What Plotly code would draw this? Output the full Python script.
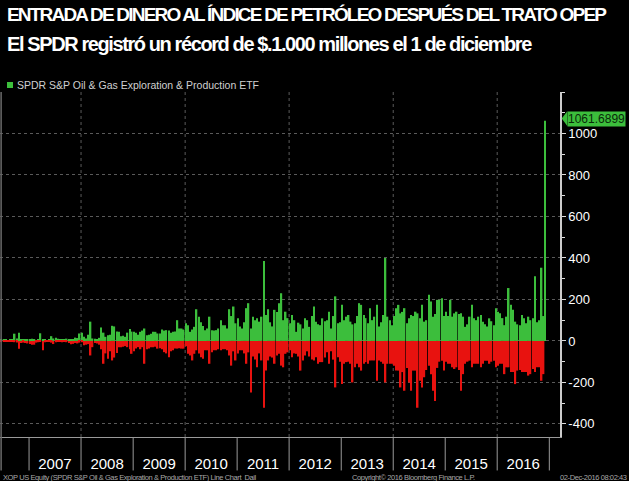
import plotly.graph_objects as go
import pandas as pd

# ---------------- data (semi-monthly envelopes of daily flows, $ millions) ----------------
pos_2006 = [5, 6, 5, 4, 6, 8, 35, 12, 40, 6, 5, 6, 8]
neg_2006 = [-2, -2, -3, -2, -3, -4, -6, -8, -38, -10, -8, -10, -12]
pos_2007 = [8, 11, 5, 4, 6, 37, 8, 5, 4, 5, 23, 12, 16, 10, 7, 6, 8, 11, 9, 6, 8, 16, 14, 36]
neg_2007 = [-15, -18, -18, -8, -6, -5, -45, -6, -4, -4, -8, -15, -6, -5, -4, -6, -5, -6, -10, -16, -14, -10, -12, -8]
pos_2008 = [39, 20, 12, 30, 93, 12, 10, 8, 15, 65, 40, 20, 28, 30, 73, 70, 45, 44, 23, 25, 20, 40, 57, 45]
neg_2008 = [-6, -21, -18, -15, -70, -30, -10, -12, -18, -40, -110, -60, -86, -50, -94, -80, -58, -30, -30, -28, -25, -30, -40, -62]
pos_2009 = [44, 39, 30, 44, 50, 60, 28, 30, 35, 44, 44, 36, 36, 55, 50, 52, 50, 40, 44, 45, 100, 60, 60, 55]
neg_2009 = [-50, -37, -30, -40, -30, -110, -40, -37, -30, -30, -28, -37, -35, -40, -54, -60, -78, -50, -45, -37, -37, -35, -37, -37]
pos_2010 = [85, 76, 44, 55, 68, 153, 117, 90, 72, 52, 60, 117, 52, 50, 52, 60, 100, 76, 76, 60, 153, 120, 166, 85]
neg_2010 = [-25, -62, -70, -94, -62, -45, -60, -78, -86, -45, -45, -110, -54, -45, -45, -40, -45, -40, -40, -45, -70, -119, -50, -94]
pos_2011 = [109, 70, 60, 90, 158, 182, 60, 117, 100, 109, 93, 117, 385, 125, 153, 90, 70, 150, 140, 182, 230, 100, 141, 110]
neg_2011 = [-60, -45, -45, -60, -110, -55, -249, -75, -90, -127, -60, -94, -322, -143, -94, -75, -80, -110, -70, -62, -119, -127, -62, -55]
pos_2012 = [85, 125, 100, 44, 88, 80, 60, 109, 100, 68, 120, 166, 93, 80, 76, 109, 95, 100, 141, 60, 120, 215, 85, 90]
neg_2012 = [-45, -78, -60, -62, -75, -143, -94, -70, -50, -75, -90, -94, -78, -110, -102, -102, -80, -55, -110, -50, -90, -224, -78, -100]
pos_2013 = [174, 100, 117, 125, 93, 80, 85, 120, 182, 174, 125, 110, 85, 158, 100, 117, 174, 70, 90, 125, 400, 117, 100, 76]
neg_2013 = [-208, -110, -102, -100, -110, -200, -127, -110, -127, -143, -110, -102, -110, -94, -94, -94, -192, -94, -100, -110, -200, -110, -110, -110]
pos_2014 = [120, 158, 174, 133, 140, 158, 85, 110, 125, 120, 141, 133, 110, 174, 93, 100, 223, 190, 117, 130, 198, 198, 206, 120]
neg_2014 = [-120, -143, -143, -224, -150, -240, -130, -200, -240, -143, -143, -322, -192, -224, -175, -140, -119, -160, -240, -290, -130, -100, -95, -143]
pos_2015 = [141, 120, 198, 117, 133, 141, 130, 133, 117, 68, 80, 117, 174, 110, 100, 117, 125, 93, 80, 70, 109, 95, 76, 158]
neg_2015 = [-100, -110, -110, -127, -135, -127, -140, -240, -160, -110, -100, -95, -127, -110, -110, -110, -127, -110, -95, -95, -110, -100, -95, -127]
pos_2016 = [141, 133, 110, 76, 117, 255, 174, 150, 93, 80, 76, 125, 110, 85, 117, 100, 110, 312, 90, 100, 353, 120]
neg_2016 = [-120, -110, -110, -160, -127, -127, -150, -150, -208, -143, -140, -150, -150, -150, -167, -160, -135, -150, -127, -127, -192, -160]

spike_date = "2016-12-01"
spike_value = 1061.6899

years = [2007, 2008, 2009, 2010, 2011, 2012, 2013, 2014, 2015, 2016]
y_ticks = [-400, -200, 0, 200, 400, 600, 800, 1000]

series_name = "SPDR S&P Oil & Gas Exploration & Production ETF"
title1 = "ENTRADA DE DINERO AL ÍNDICE DE PETRÓLEO DESPUÉS DEL TRATO OPEP"
title2 = "El SPDR registró un récord de $.1.000 millones el 1 de diciembre"
footer_left = "XOP US Equity (SPDR S&P Oil & Gas Exploration & Production ETF) Line Chart  Dail"
footer_mid = "Copyright\u00a9 2016 Bloomberg Finance L.P."
footer_right = "02-Dec-2016 08:02:43"

# ---------------- build ----------------
pos = pos_2006 + pos_2007 + pos_2008 + pos_2009 + pos_2010 + pos_2011 + pos_2012 + pos_2013 + pos_2014 + pos_2015 + pos_2016
neg = neg_2006 + neg_2007 + neg_2008 + neg_2009 + neg_2010 + neg_2011 + neg_2012 + neg_2013 + neg_2014 + neg_2015 + neg_2016
dates = pd.date_range("2006-06-15", periods=len(pos), freq="SMS")
x_mid = dates + pd.Timedelta(days=7)

GREEN = "#3CBE3C"
RED = "#E8120F"
GRID = "#5a5a5a"

fig = go.Figure()
fig.add_trace(go.Bar(x=x_mid, y=pos, marker=dict(color=GREEN, line=dict(width=0)),
                     name=series_name, showlegend=False))
fig.add_trace(go.Bar(x=x_mid, y=neg, marker=dict(color=RED, line=dict(width=0)),
                     showlegend=False))
fig.add_trace(go.Bar(x=[pd.Timestamp(spike_date)], y=[spike_value], width=[9 * 86400000],
                     marker=dict(color=GREEN, line=dict(width=0)), showlegend=False))

shapes = []
for yr in years + [2017]:
    shapes.append(dict(type="line", xref="x", yref="paper", x0=f"{yr}-01-01", x1=f"{yr}-01-01",
                       y0=0, y1=-0.097, line=dict(color="#9a9a9a", width=1)))
for yr in [2008, 2010, 2012, 2014, 2016]:
    shapes.append(dict(type="line", xref="x", yref="paper", x0=f"{yr}-01-01", x1=f"{yr}-01-01",
                       y0=0, y1=1, line=dict(color=GRID, width=1, dash="dot"), layer="below"))
shapes.append(dict(type="line", xref="paper", yref="paper", x0=0.002, x1=0.002, y0=-0.097, y1=1,
                   line=dict(color="#6a6a6a", width=1.5)))
shapes.append(dict(type="rect", xref="paper", yref="paper", x0=7 / 560, x1=13 / 560,
                   y0=(437 - 88) / 345, y1=(437 - 82) / 345, fillcolor=GREEN, line=dict(width=0)))
shapes.append(dict(type="path", xref="paper", yref="y",
                   path=f"M 1.003 {spike_value + 10} L 1.013 {spike_value + 45} L 1.013 {spike_value - 25} Z",
                   fillcolor=GREEN, line=dict(width=0)))

TITLE_FONT = "Liberation Sans, Arial"
annotations = [
    dict(text=f"<span style='letter-spacing:-1.8px'><b>{title1}</b></span>", xref="paper", yref="paper",
         x=5 / 560, y=(437 - 2) / 345, xanchor="left", yanchor="top", showarrow=False,
         font=dict(family=TITLE_FONT, size=19, color="white")),
    dict(text=f"<span style='letter-spacing:-1.4px'><b>{title2}</b></span>", xref="paper", yref="paper",
         x=5 / 560, y=(437 - 31) / 345, xanchor="left", yanchor="top", showarrow=False,
         font=dict(family=TITLE_FONT, size=20, color="white")),
    dict(text=series_name, xref="paper", yref="paper", x=15 / 560, y=(437 - 85) / 345,
         xanchor="left", yanchor="middle", showarrow=False,
         font=dict(family="Liberation Sans, Arial", size=10.5, color="#d0d0d0")),
    dict(text=f"{spike_value:.4f}", xref="paper", yref="y", x=1.012, y=spike_value,
         xanchor="left", yanchor="middle", yshift=2, showarrow=False, bgcolor=GREEN, borderpad=0,
         font=dict(family="Liberation Sans, Arial", size=12, color="#0a2a0a")),
    dict(text=f"<span style='letter-spacing:-0.4px'>{footer_left}</span>", xref="paper", yref="paper",
         x=1 / 560, y=-0.118, xanchor="left", yanchor="middle", showarrow=False,
         font=dict(family="Liberation Sans", size=7.5, color="#a8a8a8")),
    dict(text=f"<span style='letter-spacing:-0.4px'>{footer_mid}</span>", xref="paper", yref="paper",
         x=350 / 560, y=-0.118, xanchor="left", yanchor="middle", showarrow=False,
         font=dict(family="Liberation Sans", size=7.5, color="#a8a8a8")),
    dict(text=f"<span style='letter-spacing:-0.4px'>{footer_right}</span>", xref="paper", yref="paper",
         x=629 / 560, y=-0.118, xanchor="right", yanchor="middle", showarrow=False,
         font=dict(family="Liberation Sans", size=7.5, color="#a8a8a8")),
]

fig.update_layout(
    width=629, height=481,
    margin=dict(l=0, r=69, t=92, b=44, pad=0),
    paper_bgcolor="black", plot_bgcolor="black",
    barmode="overlay", bargap=0.25,
    showlegend=False,
    shapes=shapes, annotations=annotations,
    xaxis=dict(type="date", range=["2006-06-11", "2017-03-17"],
               tickvals=[f"{y}-07-02" for y in years], ticktext=[str(y) for y in years],
               ticks="outside", ticklen=13, tickcolor="rgba(0,0,0,0)",
               tickfont=dict(family="Liberation Sans, Arial", size=15, color="white"),
               showgrid=False, zeroline=False, showline=True, linecolor="#9a9a9a", linewidth=1),
    yaxis=dict(side="right", range=[-463, 1200],
               tickvals=y_ticks, ticktext=[str(v) for v in y_ticks],
               ticks="outside", ticklen=4, tickcolor="#dddddd",
               tickfont=dict(family="Liberation Sans, Arial", size=13, color="white"),
               showgrid=True, gridcolor=GRID, griddash="dot", gridwidth=1,
               zeroline=False, showline=True, linecolor="#cccccc", linewidth=1.5,
               minor=dict(dtick=100, tick0=0, ticks="outside", ticklen=3, tickcolor="#dddddd", showgrid=False)),
)

fig.write_html("out.html")
